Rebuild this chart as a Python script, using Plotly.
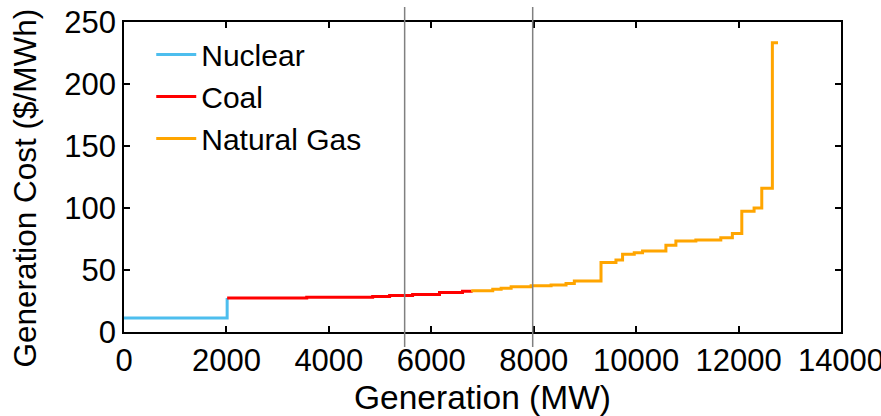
import plotly.graph_objects as go

# Supply curve (step) data
nuclear_mw = [0, 2014]
nuclear_cost = [11.2, 27.5]

coal_mw = [2014, 3568, 4855, 5186, 5635, 6161, 6609, 6779]
coal_cost = [27.5, 28.0, 28.7, 29.5, 30.3, 31.9, 32.9, 33.2]

gas_mw = [6779, 7200, 7364, 7559, 7949, 8339, 8631, 8793, 9314, 9606, 9735,
          9963, 10125, 10581, 10776, 11166, 11653, 11879, 12063, 12303,
          12453, 12660, 12770]
gas_cost = [33.2, 34.5, 35.3, 36.4, 37.2, 38.0, 39.1, 41.2, 56.0, 58.0, 62.7,
            64.0, 65.3, 69.9, 73.3, 74.1, 76.0, 79.5, 97.4, 100.0,
            116.0, 233.2, 233.2]

vlines_mw = [5480, 7980]

x_ticks = [0, 2000, 4000, 6000, 8000, 10000, 12000, 14000]
y_ticks = [0, 50, 100, 150, 200, 250]

FONT = "Liberation Sans, Arial, sans-serif"

fig = go.Figure()
fig.add_trace(go.Scatter(x=nuclear_mw, y=nuclear_cost, mode="lines", line_shape="hv",
                         name="Nuclear", line=dict(color="#4DBEEE", width=3)))
fig.add_trace(go.Scatter(x=coal_mw, y=coal_cost, mode="lines", line_shape="hv",
                         name="Coal", line=dict(color="#FF0000", width=3)))
fig.add_trace(go.Scatter(x=gas_mw, y=gas_cost, mode="lines", line_shape="hv",
                         name="Natural Gas", line=dict(color="#FFA500", width=3)))

for v in vlines_mw:
    fig.add_shape(type="line", xref="x", yref="paper", x0=v, x1=v, y0=-0.048, y1=1.048,
                  line=dict(color="#808080", width=1.5), layer="above")

axis_common = dict(showline=True, linecolor="black", linewidth=1.5, mirror="ticks",
                   ticks="inside", ticklen=6, tickwidth=1.5, tickcolor="black",
                   showgrid=False, zeroline=False, ticklabeloverflow="allow",
                   automargin=False,
                   tickfont=dict(family=FONT, size=31, color="black"))

fig.update_xaxes(range=[0, 14000], tickvals=x_ticks, ticktext=[str(t) for t in x_ticks],
                 title=dict(text="Generation (MW)", font=dict(family=FONT, size=33.5, color="black"),
                            standoff=10),
                 **axis_common)
fig.update_yaxes(range=[0, 250], tickvals=y_ticks, ticktext=[str(t) for t in y_ticks],
                 **axis_common)

# y-axis title (placed slightly below the axis centre, as in the reference)
fig.add_annotation(text="Generation Cost ($/MWh)", textangle=-90, showarrow=False,
                   xref="paper", yref="paper", x=-0.138, y=0.463,
                   xanchor="center", yanchor="middle",
                   font=dict(family=FONT, size=31.5, color="black"))

fig.update_layout(
    width=881, height=416,
    margin=dict(l=124, r=40, t=22, b=84, autoexpand=False),
    paper_bgcolor="white", plot_bgcolor="white",
    font=dict(family=FONT, color="black"),
    legend=dict(x=0.038, y=0.979, xanchor="left", yanchor="top",
                bgcolor="rgba(0,0,0,0)", font=dict(family=FONT, size=30, color="black"),
                itemwidth=40, tracegroupgap=0),
    showlegend=True,
)

fig.write_html("out.html")
